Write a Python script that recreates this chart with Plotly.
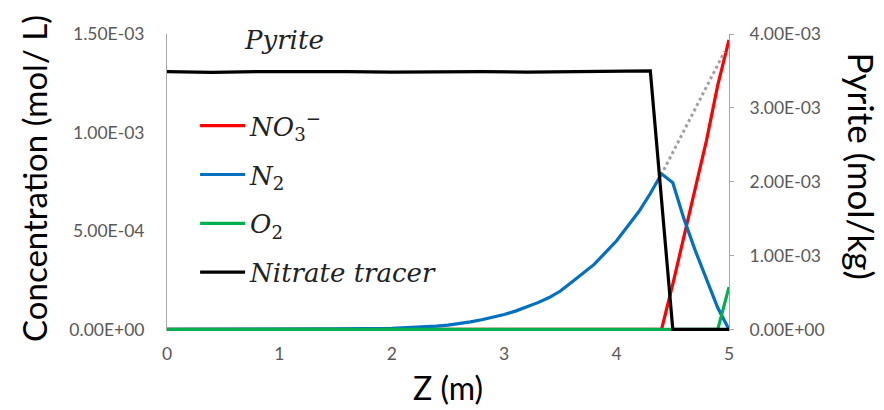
import plotly.graph_objects as go

# ---------------- data ----------------
z = [0.0, 0.5, 1.0, 1.5, 2.0, 2.1, 2.2, 2.3, 2.4, 2.5, 2.6, 2.7, 2.8, 2.9, 3.0,
     3.1, 3.2, 3.3, 3.4, 3.5, 3.6, 3.7, 3.8, 3.9, 4.0, 4.1, 4.2, 4.3, 4.4, 4.5,
     4.6, 4.7, 4.8, 4.9, 5.0]
n2 = [0, 0, 1e-6, 3e-6, 6e-6, 8e-6, 1.0e-5, 1.3e-5, 1.7e-5, 2.2e-5, 2.9e-5, 3.8e-5,
      4.9e-5, 6.2e-5, 7.6e-5, 9.3e-5, 1.13e-4, 1.36e-4, 1.62e-4, 1.95e-4, 2.4e-4,
      2.85e-4, 3.3e-4, 3.9e-4, 4.5e-4, 5.25e-4, 6.0e-4, 6.9e-4, 7.9e-4, 7.45e-4,
      5.6e-4, 4.0e-4, 2.5e-4, 1.1e-4, 0]

no3_z = [0.0, 4.4, 4.5, 4.6, 4.7, 4.8, 4.9, 5.0]
no3 = [0, 0, 2.3e-4, 4.7e-4, 7.1e-4, 9.6e-4, 1.24e-3, 1.47e-3]

o2_z = [0.0, 4.9, 5.0]
o2 = [0, 0, 2.15e-4]

pyr_z = [0.0, 0.4, 0.8, 1.2, 1.6, 2.0, 2.4, 2.8, 3.2, 3.6, 4.0, 4.3, 4.5, 5.0]
pyrite = [3.49e-3, 3.48e-3, 3.49e-3, 3.495e-3, 3.49e-3, 3.485e-3, 3.49e-3, 3.49e-3,
          3.485e-3, 3.49e-3, 3.49e-3, 3.5e-3, 0, 0]

cons_z = [4.42, 4.96]
cons = [8.1e-4, 1.41e-3]

x_ticks = [0, 1, 2, 3, 4, 5]
y_tickvals = [0, 5e-4, 1e-3, 1.5e-3]
y_ticktext = ["0.00E+00", "5.00E-04", "1.00E-03", "1.50E-03"]
y2_tickvals = [0, 1e-3, 2e-3, 3e-3, 4e-3]
y2_ticktext = ["0.00E+00", "1.00E-03", "2.00E-03", "3.00E-03", "4.00E-03"]

# ---------------- figure ----------------
LW = 3.2
fig = go.Figure()
fig.add_trace(go.Scatter(x=no3_z, y=no3, mode="lines", name="<i>NO</i><sub>3</sub><sup>−</sup>",
                         line=dict(color="#ff0000", width=LW), legendgroup="a"))
fig.add_trace(go.Scatter(x=z, y=n2, mode="lines", name="<i>N</i><sub>2</sub>",
                         line=dict(color="#0070c0", width=LW), legendgroup="b"))
fig.add_trace(go.Scatter(x=o2_z, y=o2, mode="lines", name="<i>O</i><sub>2</sub>",
                         line=dict(color="#00b050", width=LW), legendgroup="c"))
fig.add_trace(go.Scatter(x=cons_z, y=cons, mode="lines", showlegend=False,
                         line=dict(color="#a0a0a0", width=3, dash="dot")))
fig.add_trace(go.Scatter(x=pyr_z, y=pyrite, mode="lines", name="<i>Nitrate tracer</i>",
                         line=dict(color="#000000", width=LW), legendgroup="d", yaxis="y2"))

tick_font = dict(family="Lato", size=17.5, color="#595959")
fig.update_layout(
    width=884, height=410,
    margin=dict(l=167, r=155, t=34, b=79),
    paper_bgcolor="white", plot_bgcolor="white",
    showlegend=True,
    legend=dict(x=0.05, y=0.77, xanchor="left", yanchor="top",
                font=dict(family="DejaVu Serif", size=26, color="#222222"),
                tracegroupgap=12, itemwidth=45, bgcolor="rgba(0,0,0,0)"),
    xaxis=dict(range=[0, 5], tickvals=x_ticks, showline=False, showgrid=False,
               zeroline=False, ticks="", tickfont=tick_font, ticklabelstandoff=10),
    yaxis=dict(range=[-0.8e-5, 1.5e-3], tickvals=y_tickvals, ticktext=y_ticktext,
               showline=True, linecolor="#a6a6a6", linewidth=1, showgrid=False,
               zeroline=False, ticks="", tickfont=tick_font, ticklabelstandoff=18),
    yaxis2=dict(range=[-0.8e-5 * 4 / 1.5, 4e-3], tickvals=y2_tickvals, ticktext=y2_ticktext,
                overlaying="y", side="right", showline=True, linecolor="#a6a6a6",
                linewidth=1, showgrid=False, zeroline=False, ticks="outside",
                ticklen=4, tickcolor="#a6a6a6", tickfont=tick_font, ticklabelstandoff=12),
    annotations=[
        dict(text="Z (m)", xref="paper", yref="paper", x=0.5, y=-0.19,
             xanchor="center", yanchor="middle", showarrow=False,
             font=dict(family="Lato", size=32, color="#000000")),
        dict(text="Concentration (mol/ L)", xref="paper", yref="paper", x=-0.238, y=0.513,
             xanchor="center", yanchor="middle", showarrow=False, textangle=-90,
             font=dict(family="Lato", size=33, color="#000000")),
        dict(text="Pyrite (mol/kg)", xref="paper", yref="paper", x=1.236, y=0.555,
             xanchor="center", yanchor="middle", showarrow=False, textangle=90,
             font=dict(family="Lato", size=35, color="#000000")),
        dict(text="<i>Pyrite</i>", xref="paper", yref="paper", x=0.208, y=0.98,
             xanchor="center", yanchor="middle", showarrow=False,
             font=dict(family="DejaVu Serif", size=26, color="#222222")),
    ],
)

fig.write_html("out.html")
